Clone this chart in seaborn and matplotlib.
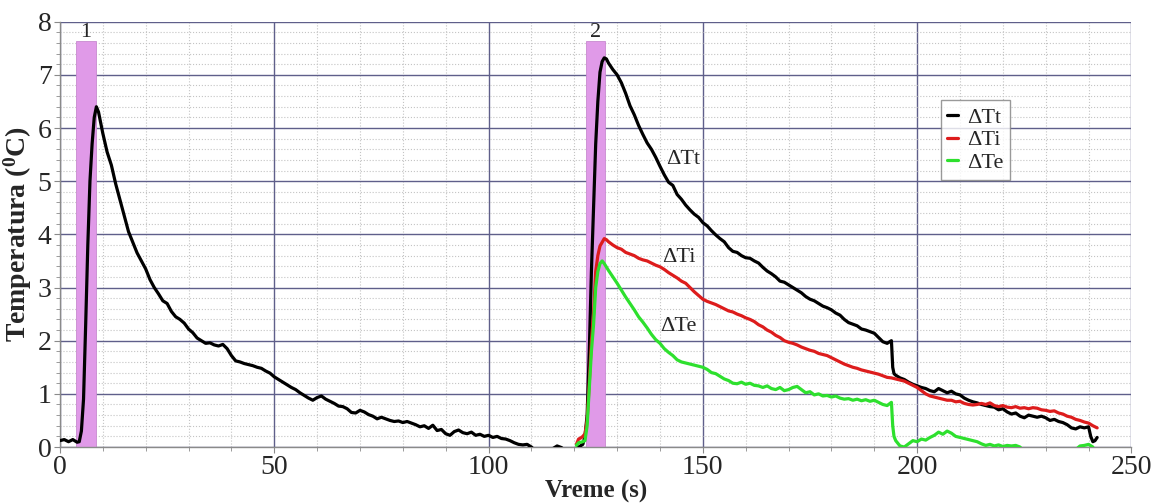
import numpy as np
import pandas as pd
import matplotlib
matplotlib.use("Agg")
import matplotlib.pyplot as plt
import seaborn as sns
from matplotlib.ticker import MultipleLocator

# --- data --------------------------------------------------------------
# first pulse, total temperature rise (dTt)
t1 = [0, 1, 2, 3, 4, 4.5, 5, 5.5, 6, 6.5, 7, 7.5, 8, 8.5, 9, 9.5, 10,
      11, 12, 13, 14, 15, 16, 17, 18, 19, 20, 21, 22, 23, 24, 25, 26, 27,
      28, 29, 30, 31, 32, 33, 34, 35, 36, 37, 38, 39, 40, 41, 42, 43, 44,
      45, 46, 47, 48, 49, 50, 51, 52, 53, 54, 55, 56, 57, 58, 59, 60, 61,
      62, 63, 64, 65, 66, 67, 68, 69, 70, 71, 72, 73, 74, 75, 76, 77, 78,
      79, 80, 81, 82, 83, 84, 85, 86, 87, 88, 89, 90, 91, 92, 93, 94, 95,
      96, 97, 98, 99, 100, 101, 102, 103, 104, 105, 106, 107, 108, 109,
      110, 111, 112, 113, 114, 115, 116, 117, 118, 119, 120]
tt1 = [0.12, 0.14, 0.10, 0.14, 0.09, 0.10, 0.30, 0.90, 2.30, 3.80, 5.00,
       5.70, 6.20, 6.40, 6.30, 6.10, 5.90, 5.55, 5.30, 4.95, 4.65, 4.35,
       4.05, 3.85, 3.65, 3.50, 3.35, 3.15, 3.00, 2.88, 2.75, 2.70, 2.55,
       2.45, 2.40, 2.33, 2.22, 2.15, 2.05, 2.00, 1.95, 1.96, 1.92, 1.90,
       1.93, 1.85, 1.72, 1.62, 1.60, 1.57, 1.55, 1.53, 1.50, 1.48, 1.43,
       1.39, 1.32, 1.27, 1.22, 1.17, 1.12, 1.08, 1.02, 0.97, 0.92, 0.88,
       0.93, 0.96, 0.90, 0.86, 0.82, 0.77, 0.76, 0.72, 0.65, 0.64, 0.69,
       0.66, 0.61, 0.58, 0.53, 0.56, 0.53, 0.50, 0.48, 0.49, 0.46, 0.48,
       0.45, 0.42, 0.38, 0.40, 0.35, 0.41, 0.31, 0.33, 0.25, 0.22, 0.29,
       0.32, 0.27, 0.25, 0.28, 0.22, 0.24, 0.20, 0.22, 0.18, 0.20, 0.16,
       0.15, 0.12, 0.08, 0.05, 0.04, 0.05, 0.00, -0.08, -0.10, -0.04,
       -0.10, -0.03, 0.02, -0.01, -0.08, -0.10, -0.05]

# second pulse, total temperature rise (dTt)
t2 = [120, 121, 122, 122.5, 123, 123.5, 124, 124.5, 125, 125.5, 126, 126.5,
      127, 127.5, 128, 129, 130, 131, 132, 133, 134, 135, 136, 137, 138,
      139, 140, 141, 142, 143, 144, 145, 146, 147, 148, 149, 150, 151, 152,
      153, 154, 155, 156, 157, 158, 159, 160, 161, 162, 163, 164, 165, 166,
      167, 168, 169, 170, 171, 172, 173, 174, 175, 176, 177, 178, 179, 180,
      181, 182, 183, 184, 185, 186, 187, 188, 189, 190, 191, 192, 193, 194,
      194.3, 194.6, 195, 196, 197, 198, 199, 200, 201, 202, 203, 204, 205,
      206, 207, 208, 209, 210, 211, 212, 213, 214, 215, 216, 217, 218, 219,
      220, 221, 222, 223, 224, 225, 226, 227, 228, 229, 230, 231, 232, 233,
      234, 235, 236, 237, 238, 239, 240, 240.5, 241, 241.5, 242]
tt2 = [-0.05, 0.00, 0.05, 0.20, 0.60, 1.80, 3.30, 4.50, 5.70, 6.50, 7.05,
       7.25, 7.32, 7.30, 7.22, 7.10, 7.00, 6.85, 6.65, 6.42, 6.25, 6.05,
       5.88, 5.72, 5.60, 5.45, 5.28, 5.12, 4.98, 4.92, 4.75, 4.66, 4.55,
       4.46, 4.38, 4.32, 4.22, 4.16, 4.07, 3.99, 3.92, 3.86, 3.75, 3.68,
       3.66, 3.60, 3.56, 3.55, 3.50, 3.46, 3.38, 3.31, 3.26, 3.20, 3.12,
       3.10, 3.05, 3.00, 2.95, 2.90, 2.83, 2.78, 2.75, 2.70, 2.65, 2.62,
       2.58, 2.52, 2.48, 2.40, 2.34, 2.31, 2.28, 2.22, 2.20, 2.17, 2.14,
       2.06, 1.98, 1.95, 2.00, 1.50, 1.38, 1.35, 1.30, 1.27, 1.22, 1.18,
       1.15, 1.12, 1.10, 1.06, 1.04, 1.10, 1.06, 1.02, 1.05, 1.00, 0.98,
       0.92, 0.88, 0.85, 0.83, 0.80, 0.78, 0.76, 0.75, 0.70, 0.72, 0.66,
       0.62, 0.64, 0.58, 0.55, 0.60, 0.58, 0.56, 0.58, 0.55, 0.50, 0.52,
       0.48, 0.46, 0.42, 0.36, 0.34, 0.38, 0.36, 0.38, 0.20, 0.10, 0.12,
       0.18]

# second pulse, dTi
ti = [120.5, 121, 121.5, 122, 122.5, 123, 123.5, 124, 124.5, 125, 125.5,
      126, 126.5, 127, 127.5, 128, 129, 130, 131, 132, 133, 134, 135, 136,
      137, 138, 139, 140, 141, 142, 143, 144, 145, 146, 147, 148, 149, 150,
      151, 152, 153, 154, 155, 156, 157, 158, 159, 160, 161, 162, 163, 164,
      165, 166, 167, 168, 169, 170, 171, 172, 173, 174, 175, 176, 177, 178,
      179, 180, 181, 182, 183, 184, 185, 186, 187, 188, 189, 190, 191, 192,
      193, 194, 195, 196, 197, 198, 199, 200, 201, 202, 203, 204, 205, 206,
      207, 208, 209, 210, 211, 212, 213, 214, 215, 216, 217, 218, 219, 220,
      221, 222, 223, 224, 225, 226, 227, 228, 229, 230, 231, 232, 233, 234,
      235, 236, 237, 238, 239, 240, 241, 242]
dti = [0.05, 0.15, 0.17, 0.20, 0.25, 0.50, 1.20, 2.00, 2.50, 3.30, 3.60,
       3.78, 3.85, 3.92, 3.90, 3.86, 3.80, 3.75, 3.72, 3.66, 3.63, 3.60,
       3.55, 3.52, 3.50, 3.46, 3.42, 3.39, 3.34, 3.28, 3.23, 3.18, 3.12,
       3.08, 3.00, 2.92, 2.85, 2.78, 2.74, 2.71, 2.68, 2.64, 2.60, 2.56,
       2.54, 2.50, 2.47, 2.43, 2.40, 2.36, 2.30, 2.26, 2.20, 2.16, 2.10,
       2.06, 2.00, 1.97, 1.95, 1.92, 1.88, 1.85, 1.82, 1.80, 1.76, 1.74,
       1.72, 1.68, 1.64, 1.60, 1.56, 1.53, 1.50, 1.48, 1.45, 1.43, 1.41,
       1.39, 1.37, 1.34, 1.31, 1.30, 1.28, 1.26, 1.24, 1.20, 1.16, 1.12,
       1.06, 1.00, 0.96, 0.94, 0.92, 0.90, 0.88, 0.88, 0.85, 0.86, 0.82,
       0.80, 0.79, 0.80, 0.82, 0.80, 0.83, 0.78, 0.76, 0.78, 0.75, 0.74,
       0.76, 0.73, 0.74, 0.72, 0.74, 0.73, 0.70, 0.69, 0.67, 0.68, 0.64,
       0.62, 0.58, 0.56, 0.52, 0.50, 0.47, 0.45, 0.40, 0.36]

# second pulse, dTe
te = [120.5, 121, 122, 122.5, 123, 123.5, 124, 124.5, 125, 125.5, 126,
      126.5, 127, 128, 129, 130, 131, 132, 133, 134, 135, 136, 137, 138,
      139, 140, 141, 142, 143, 144, 145, 146, 147, 148, 149, 150, 151, 152,
      153, 154, 155, 156, 157, 158, 159, 160, 161, 162, 163, 164, 165, 166,
      167, 168, 169, 170, 171, 172, 173, 174, 175, 176, 177, 178, 179, 180,
      181, 182, 183, 184, 185, 186, 187, 188, 189, 190, 191, 192, 193, 194,
      194.3, 194.6, 195, 196, 197, 198, 199, 200, 201, 202, 203, 204, 205,
      206, 207, 208, 209, 210, 211, 212, 213, 214, 215, 216, 217, 218, 219,
      220, 221, 222, 223, 224, 225, 230, 236, 237, 238, 239, 240, 241]
dte = [0.03, 0.08, 0.10, 0.12, 0.40, 1.10, 1.80, 2.30, 3.00, 3.30, 3.45,
       3.50, 3.45, 3.32, 3.20, 3.08, 2.95, 2.82, 2.70, 2.58, 2.45, 2.35,
       2.24, 2.12, 2.02, 1.95, 1.85, 1.78, 1.72, 1.64, 1.60, 1.58, 1.56,
       1.54, 1.52, 1.50, 1.46, 1.40, 1.38, 1.33, 1.28, 1.25, 1.20, 1.19,
       1.22, 1.18, 1.20, 1.16, 1.15, 1.12, 1.15, 1.10, 1.08, 1.12, 1.06,
       1.08, 1.12, 1.14, 1.08, 1.02, 1.04, 0.98, 1.00, 0.96, 0.97, 0.94,
       0.96, 0.92, 0.90, 0.91, 0.88, 0.90, 0.87, 0.89, 0.86, 0.88, 0.84,
       0.80, 0.78, 0.84, 0.40, 0.20, 0.12, 0.02, 0.00, 0.06, 0.12, 0.10,
       0.15, 0.13, 0.18, 0.22, 0.28, 0.24, 0.30, 0.26, 0.20, 0.18, 0.16,
       0.14, 0.12, 0.10, 0.06, 0.03, 0.05, 0.02, 0.04, 0.01, 0.03, 0.02,
       0.03, 0.00, -0.10, -0.10, -0.10, -0.05, 0.02, 0.03, 0.05, 0.00]

# heating pulses
pulse_start = [3.7, 122.7]
pulse_end = [8.5, 127.2]
pulse_top = [7.63, 7.63]
pulse_labels = ["1", "2"]

series_names = ["\u0394Tt", "\u0394Ti", "\u0394Te"]
series_colors = ["#000000", "#dd1c1c", "#2ee02e"]

# --- plotting ----------------------------------------------------------
sns.set_style("white")
plt.rcParams["font.family"] = ["Liberation Serif", "DejaVu Serif"]
plt.rcParams["mathtext.fontset"] = "custom"
plt.rcParams["mathtext.rm"] = "Liberation Serif"
plt.rcParams["mathtext.bf"] = "Liberation Serif:bold"

fig = plt.figure(figsize=(11.53, 5.03), dpi=100)
ax = fig.add_axes([0.052, 0.1113, 0.9293, 0.8456])

# pulses
widths = np.array(pulse_end) - np.array(pulse_start)
ax.bar(pulse_start, pulse_top, width=widths, align="edge",
       color="#e09ae8", edgecolor="#c88ad0", linewidth=0.6, zorder=2)
for s, w, h, lab in zip(pulse_start, widths, pulse_top, pulse_labels):
    ax.text(s + w / 2, h - 0.02, lab, ha="center", va="bottom", fontsize=16)

# curves
lw = 2.3
sns.lineplot(x=t1, y=tt1, ax=ax, color=series_colors[0], lw=lw,
             estimator=None, sort=False, zorder=4)
sns.lineplot(x=t2, y=tt2, ax=ax, color=series_colors[0], lw=lw,
             estimator=None, sort=False, zorder=4, label=series_names[0])
sns.lineplot(x=ti, y=dti, ax=ax, color=series_colors[1], lw=lw,
             estimator=None, sort=False, zorder=5, label=series_names[1])
sns.lineplot(x=te, y=dte, ax=ax, color=series_colors[2], lw=lw,
             estimator=None, sort=False, zorder=5, label=series_names[2])

# curve annotations
ax.text(145.5, 5.4, series_names[0], ha="center", va="center", fontsize=16)
ax.text(144.3, 3.56, series_names[1], ha="center", va="center", fontsize=16)
ax.text(144.3, 2.26, series_names[2], ha="center", va="center", fontsize=16)

# axes and grid
ax.set_xlim(0, 250)
ax.set_ylim(0, 8)
ax.xaxis.set_major_locator(MultipleLocator(50))
ax.xaxis.set_minor_locator(MultipleLocator(10))
ax.yaxis.set_major_locator(MultipleLocator(1))
ax.yaxis.set_minor_locator(MultipleLocator(0.2))
ax.set_axisbelow(True)
ax.grid(which="major", color="#5f5f8a", lw=1.0, zorder=0)
ax.grid(which="minor", color="#c4c4c4", lw=0.8, ls=":", zorder=0)

for side in ["top", "right"]:
    ax.spines[side].set_visible(False)
for side in ["left", "bottom"]:
    ax.spines[side].set_color("#8a8a8a")
    ax.spines[side].set_linewidth(1.0)

ax.tick_params(which="both", direction="out", color="#8a8a8a",
               left=True, bottom=True)
ax.tick_params(which="major", length=4, labelsize=20, pad=2)
ax.tick_params(which="minor", length=3)

ax.set_xlabel("Vreme (s)", fontsize=18, fontweight="bold", labelpad=0)
ax.set_ylabel(r"Temperatura ($\mathbf{^0}$C)", fontsize=20,
              fontweight="bold")
ax.yaxis.set_label_coords(-0.0245, 0.5)

leg = ax.legend(loc="upper left", bbox_to_anchor=(0.822, 0.815),
                fontsize=16, frameon=True, fancybox=False,
                handlelength=0.5, handletextpad=0.4, borderpad=0.3,
                labelspacing=0.1, borderaxespad=0)
leg.get_frame().set_edgecolor("#808080")
leg.get_frame().set_linewidth(1.0)
leg.set_zorder(6)

fig.savefig("out.png", dpi=100)
